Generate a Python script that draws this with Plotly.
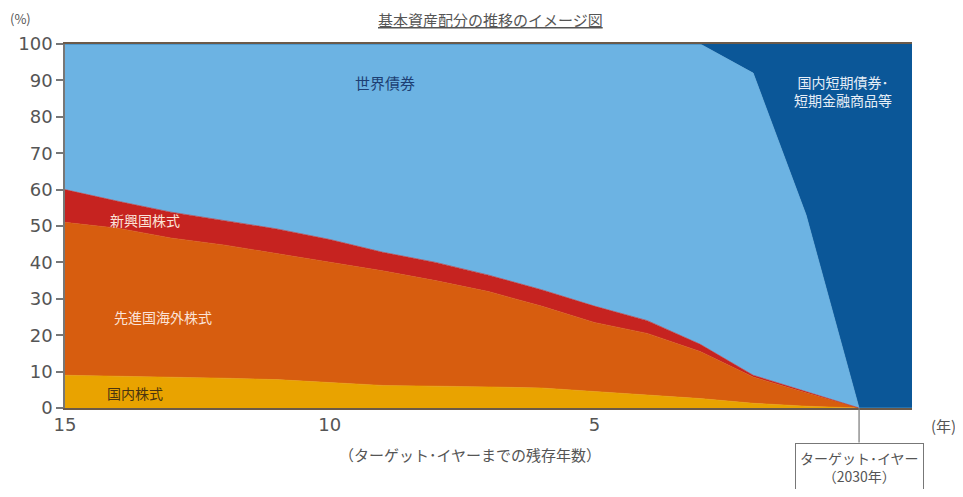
import plotly.graph_objects as go

# years remaining until target year (x axis reversed)
years = [15, 14, 13, 12, 11, 10, 9, 8, 7, 6, 5, 4, 3, 2, 1, 0, -1]

# allocation shares (%)
domestic_stocks = [9, 8.8, 8.5, 8.2, 7.8, 7, 6.2, 6, 5.8, 5.5, 4.6, 3.6, 2.6, 1.3, 0.5, 0, 0]
developed_stocks = [42, 40.6, 38.2, 36.6, 34.7, 33, 31.5, 29, 26.2, 22.5, 18.9, 16.9, 12.9, 7.2, 3.7, 0, 0]
emerging_stocks = [9, 7.4, 7.1, 6.6, 6.7, 6.3, 5.1, 5, 4.5, 4.5, 4.5, 3.5, 2, 0.5, 0.3, 0, 0]
world_bonds = [40, 43.2, 46.2, 48.6, 50.8, 53.7, 57.2, 60, 63.5, 67.5, 72, 76, 82.5, 83, 48.5, 0, 0]
short_term = [0, 0, 0, 0, 0, 0, 0, 0, 0, 0, 0, 0, 0, 8, 47, 100, 100]

x_ticks = [15, 10, 5]
y_ticks = [0, 10, 20, 30, 40, 50, 60, 70, 80, 90, 100]

JP = "Noto Sans CJK JP"
GREY = "#555555"

series = [
    ("国内株式", domestic_stocks, "#E9A300"),
    ("先進国海外株式", developed_stocks, "#D75D0F"),
    ("新興国株式", emerging_stocks, "#C62320"),
    ("世界債券", world_bonds, "#6CB3E3"),
    ("国内短期債券・短期金融商品等", short_term, "#0B5798"),
]

fig = go.Figure()
for name, vals, col in series:
    fig.add_trace(go.Scatter(
        x=years, y=vals, name=name, mode="lines", stackgroup="one",
        line=dict(width=0.6, color=col), fillcolor=col, hoverinfo="skip",
    ))

fig.update_layout(
    width=947, height=481,
    margin=dict(l=57, r=43, t=36, b=81, autoexpand=False),
    paper_bgcolor="white", plot_bgcolor="white",
    showlegend=False,
    font=dict(family=JP, color=GREY),
    xaxis=dict(range=[15, -1], tickvals=x_ticks, ticktext=[str(v) for v in x_ticks],
               showgrid=False, zeroline=False, showline=True, mirror=True,
               linecolor="#6b5a4a", linewidth=1.5, ticks="",
               tickfont=dict(family="DejaVu Sans", size=18, color=GREY)),
    yaxis=dict(range=[0, 100], tickvals=y_ticks, showgrid=False, zeroline=False,
               showline=True, linecolor="#777777", linewidth=1.5,
               ticks="outside", ticklen=7, tickcolor="#777777", tickwidth=1.5,
               tickfont=dict(family="DejaVu Sans", size=18, color=GREY)),
)

ann = [
    dict(text="<u>基本資産配分の推移のイメージ図</u>", x=0.502, y=1.066, xref="paper", yref="paper",
         font=dict(size=15, color="#555555")),
    dict(text="(%)", x=-0.053, y=1.07, xref="paper", yref="paper", font=dict(size=13, color=GREY)),
    dict(text="(年)", x=1.037, y=-0.047, xref="paper", yref="paper", font=dict(size=15, color=GREY)),
    dict(text="（ターゲット･イヤーまでの残存年数）", x=0.478, y=-0.129, xref="paper", yref="paper",
         font=dict(size=15, color=GREY)),
    dict(text="世界債券", x=8.95, y=89.4, font=dict(size=15, color="#1d3f73")),
    dict(text="新興国株式", x=13.49, y=51.6, font=dict(size=14, color="#fbe3d8")),
    dict(text="先進国海外株式", x=13.15, y=25, font=dict(size=14, color="#fbe3d8")),
    dict(text="国内株式", x=13.68, y=4.1, font=dict(size=14, color="#4a3410")),
    dict(text="国内短期債券･<br>短期金融商品等", x=0.31, y=87.2, font=dict(size=14, color="#e6eef7")),
    dict(text="ターゲット･イヤー<br>（2030年）", x=0, y=-0.095, yref="paper", yanchor="top",
         font=dict(size=14, color=GREY), bordercolor="#777777", borderwidth=1, borderpad=4,
         bgcolor="white"),
]
for a in ann:
    a.setdefault("showarrow", False)
    a.setdefault("xref", "x")
    a.setdefault("yref", "y")
    a.setdefault("xanchor", "center")
    a.setdefault("yanchor", "middle")
    fig.add_annotation(**a)

fig.add_shape(type="line", x0=0, x1=0, xref="x", y0=0, y1=-0.095, yref="paper",
              line=dict(color="#777777", width=1.2))

fig.write_html("out.html")
